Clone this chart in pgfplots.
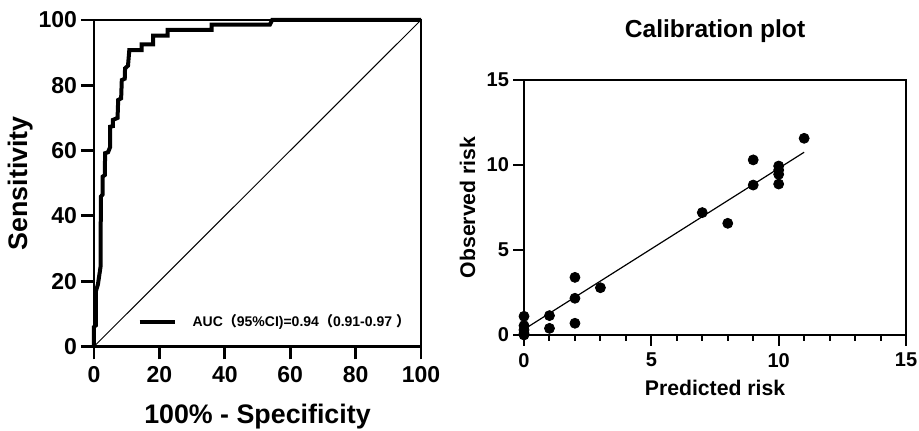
\documentclass[border=0pt]{standalone}
\usepackage{pgfplots}
\pgfplotsset{compat=1.18}
\usepackage{fontspec}
\setmainfont{Liberation Sans}
\newfontfamily\cjk{Noto Sans CJK SC}
\begin{document}
\begin{tikzpicture}[x=1pt,y=1pt]
\useasboundingbox (0,0) rectangle (459.5,215.5);
% ROC
\begin{axis}[
  at={(47pt,42.25pt)}, anchor=south west,
  scale only axis, width=163.5pt, height=163.25pt,
  xmin=0, xmax=100, ymin=0, ymax=100,
  xtick={0,20,40,60,80,100}, ytick={0,20,40,60,80,100},
  axis line style={line width=1.4pt},
  tick style={line width=1.4pt, black},
  tick align=outside, major tick length=6.5pt,
  xtick pos=bottom, ytick pos=left,
  /pgf/number format/assume math mode=true,
  tick label style={font=\fontsize{11.5}{13}\selectfont\bfseries},
  yticklabel style={xshift=1.5pt},
  xlabel={100\% - Specificity}, ylabel={Sensitivity},
  label style={font=\fontsize{13.4}{15}\selectfont\bfseries},
  xlabel style={at={(axis description cs:0.5,-0.216)}, anchor=center},
  ylabel style={at={(axis description cs:-0.226,0.5)}, anchor=center, rotate=0},
  legend style={draw=none, fill=none, at={(axis cs:13.2,7.5)}, anchor=west,
    font=\fontsize{7}{8.5}\selectfont\bfseries, inner sep=0pt},
  legend cell align=left,
  legend image code/.code={\draw[#1] (0pt,0pt) -- (17.5pt,0pt);},
  clip=false,
]
\addplot[black, line width=2pt, line join=miter] coordinates {
(0,0)(0,6)(0.6,6.5)(0.6,17)(1.2,19)(2,24.4)(2.1,45.9)(2.6,46.5)(2.6,52)
(3.3,52.5)(3.4,59.2)(4.3,59.5)(4.9,61)(4.9,67.3)(5.8,67.5)(5.8,69.4)
(7.2,70)(7.4,75.5)(8.3,76)(8.5,81.6)(9.4,82)(9.5,85.2)(10.4,86)(10.8,90.8)
(14.6,90.8)(14.6,92.5)(18.1,92.5)(18.1,95.2)(22.5,95.2)(22.5,97)(36,97)
(36,98.6)(53.8,98.6)(54.5,100)(100,100)};
\addlegendentry{\hspace*{6pt}AUC{\cjk（}95\%CI)=0.94{\cjk（}0.91-0.97 {\cjk）}}
\addplot[black, line width=0.5pt, forget plot] coordinates {(0,0)(100,100)};
\end{axis}
% Calibration
\begin{axis}[
  at={(262pt,48pt)}, anchor=south west,
  scale only axis, width=191pt, height=127.5pt,
  xmin=0, xmax=15, ymin=0, ymax=15,
  xtick={0,5,10,15}, ytick={0,5,10,15},
  minor xtick={1,2,3,4,6,7,8,9,11,12,13,14},
  axis line style={line width=1pt},
  tick style={line width=1pt, black},
  tick align=outside, major tick length=5.5pt, minor tick length=2.8pt,
  xtick pos=bottom, ytick pos=left,
  /pgf/number format/assume math mode=true,
  tick label style={font=\fontsize{10}{12}\selectfont\bfseries},
  yticklabel style={xshift=1.5pt},
  xlabel={Predicted risk}, ylabel={Observed risk},
  label style={font=\fontsize{10.6}{12}\selectfont\bfseries},
  xlabel style={at={(axis description cs:0.5,-0.208)}, anchor=center},
  ylabel style={at={(axis description cs:-0.148,0.5)}, anchor=center},
  title={Calibration plot},
  title style={font=\fontsize{12.3}{14}\selectfont\bfseries, at={(axis description cs:0.5,1.145)}, anchor=center},
  clip=false,
]
\addplot[black, line width=0.6pt] coordinates {(0,0.33)(11,10.75)};
\addplot[only marks, mark=*, mark size=2.5pt, black] coordinates {
(0,0)(0,0.1)(0,0.3)(0,0.55)(0,1.1)
(1,1.14)(1,0.39)
(2,3.39)(2,2.16)(2,0.69)
(3,2.78)
(7,7.2)(8,6.57)
(9,10.3)(9,8.82)
(10,9.94)(10,9.7)(10,9.45)(10,8.88)
(11,11.57)};
\end{axis}
\end{tikzpicture}
\end{document}
